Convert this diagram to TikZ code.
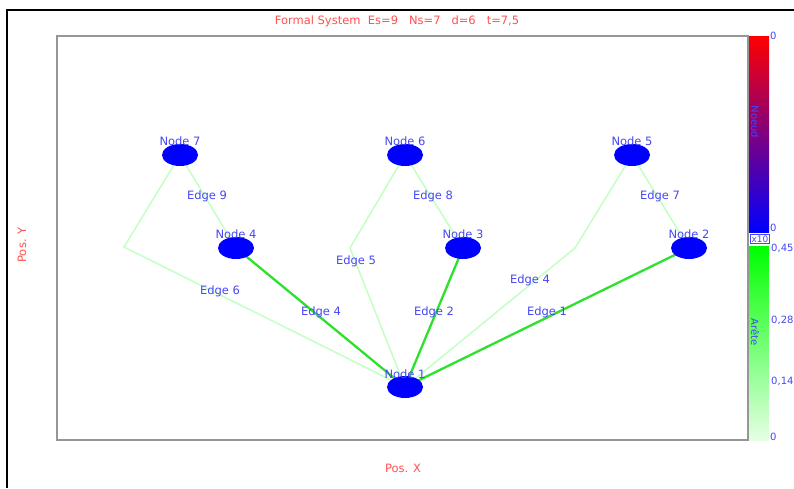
\documentclass[tikz,border=0pt]{standalone}
\usepackage{fontspec}
\setmainfont{DejaVu Sans}
\usetikzlibrary{shapes.geometric,backgrounds}
\definecolor{txtblue}{RGB}{70,70,245}
\definecolor{txtred}{RGB}{255,80,80}
\definecolor{strongedge}{RGB}{45,225,45}
\definecolor{weakedge}{RGB}{195,255,195}
\definecolor{framegray}{RGB}{150,150,150}
\definecolor{greenlow}{RGB}{228,255,228}
\tikzset{
  vertex/.style={ellipse, fill=blue, draw=none, minimum width=36pt, minimum height=22pt, inner sep=0pt},
  vlabel/.style={text=txtblue, font=\fontsize{11.5}{12}\selectfont, inner sep=0pt},
  elabel/.style={text=txtblue, font=\fontsize{11.5}{12}\selectfont, inner sep=0pt},
  weak/.style={draw=weakedge, line width=1.5pt},
  strong/.style={draw=strongedge, line width=2.3pt},
  axislabel/.style={text=txtred, font=\fontsize{11.5}{12}\selectfont, inner sep=0pt},
  ticklabel/.style={text=txtblue, font=\fontsize{10}{11}\selectfont, inner sep=0pt}
}
\begin{document}
\begin{tikzpicture}[x=1pt,y=-1pt]
\useasboundingbox (0,0) rectangle (794,488);

% outer frame
\draw[black, line width=2pt] (7,488) -- (7,10) -- (794,10);

% colour bars
\shade[top color=red, bottom color=blue] (748,36) rectangle (769,232);
\shade[top color={rgb,255:red,0;green,255;blue,0}, bottom color=greenlow] (748,246) rectangle (769,440);
\node[ticklabel, rotate=-90] (barnode) at (755,122) {Noeud};
\node[ticklabel, rotate=-90] (baredge) at (755,332) {Arête};
\node[ticklabel, draw=txtblue, line width=0.5pt, inner sep=1pt, font=\fontsize{9}{10}\selectfont] (mult) at (760,239) {x10};
\node[ticklabel, anchor=west] (t1) at (770,36) {0};
\node[ticklabel, anchor=west] (t2) at (770,228) {0};
\node[ticklabel, anchor=west] (t3) at (771,248) {0,45};
\node[ticklabel, anchor=west] (t4) at (771,320) {0,28};
\node[ticklabel, anchor=west] (t5) at (771,381) {0,14};
\node[ticklabel, anchor=west] (t6) at (770,437) {0};

% plot area
\draw[framegray, line width=2pt] (57,36) rectangle (748,440);

% titles
\node[axislabel] (title) at (397,21) {Formal System\ \ Es=9\ \ \ Ns=7\ \ \ d=6\ \ \ t=7,5};
\node[axislabel] (xlab) at (403,468) {Pos. X};
\node[axislabel, rotate=90] (ylab) at (22,245) {Pos. Y};

% vertices
\node[vertex] (n1) at (405,387) {};
\node[vertex] (n2) at (689,248) {};
\node[vertex] (n3) at (463,248) {};
\node[vertex] (n4) at (236,248) {};
\node[vertex] (n5) at (632,155) {};
\node[vertex] (n6) at (405,155) {};
\node[vertex] (n7) at (180,155) {};

% bend points
\coordinate (b6) at (124,247);
\coordinate (b5) at (350,248);
\coordinate (b4) at (575,248);

% edges, kept underneath the vertices
\begin{scope}[on background layer]
\draw[weak] (n7.center) -- (n4.center);
\draw[weak] (n6.center) -- (n3.center);
\draw[weak] (n5.center) -- (n2.center);
\draw[weak] (n7.center) -- (b6) -- (n1.center);
\draw[weak] (n6.center) -- (b5) -- (n1.center);
\draw[weak] (n5.center) -- (b4) -- (n1.center);
\draw[strong] (n4.center) -- (n1.center);
\draw[strong] (n3.center) -- (n1.center);
\draw[strong] (n2.center) -- (n1.center);
\end{scope}

% vertex labels
\node[vlabel] (l1) at (405,374) {Node 1};
\node[vlabel] (l2) at (689,234) {Node 2};
\node[vlabel] (l3) at (463,234) {Node 3};
\node[vlabel] (l4) at (236,234) {Node 4};
\node[vlabel] (l5) at (632,141) {Node 5};
\node[vlabel] (l6) at (405,141) {Node 6};
\node[vlabel] (l7) at (180,141) {Node 7};

% edge labels
\node[elabel] (e9) at (207,196) {Edge 9};
\node[elabel] (e8) at (433,196) {Edge 8};
\node[elabel] (e7) at (660,196) {Edge 7};
\node[elabel] (e5) at (356,261) {Edge 5};
\node[elabel] (e4b) at (530,280) {Edge 4};
\node[elabel] (e6) at (220,291) {Edge 6};
\node[elabel] (e4) at (321,312) {Edge 4};
\node[elabel] (e2) at (434,312) {Edge 2};
\node[elabel] (e1) at (547,312) {Edge 1};
\end{tikzpicture}
\end{document}
